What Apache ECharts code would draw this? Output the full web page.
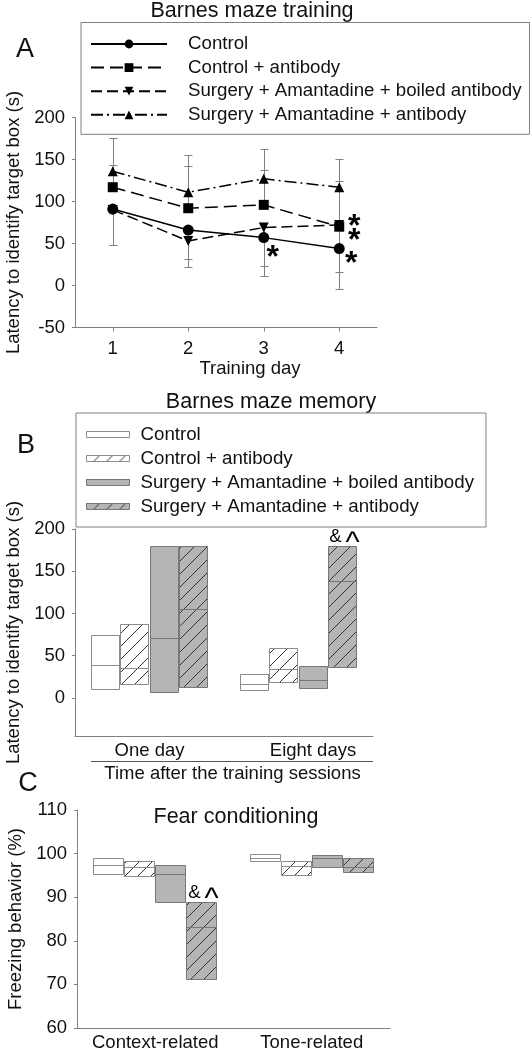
<!DOCTYPE html>
<html><head><meta charset="utf-8">
<script src="https://cdn.jsdelivr.net/npm/echarts@6/dist/echarts.min.js"></script>
<style>html,body{margin:0;padding:0;background:#fff}#c{width:532px;height:1050px}</style>
</head><body><div id="c"></div>
<script>
// ---------- data ----------
const groups = ['Control', 'Control + antibody', 'Surgery + Amantadine + boiled antibody', 'Surgery + Amantadine + antibody'];

// Panel A: Barnes maze training (latency, s)
const trainingDays = ['1', '2', '3', '4'];
const trainControl   = [91, 66, 57, 44];
const trainControlAb = [117, 92, 96, 70];
const trainBoiled    = [90, 53, 69, 72];
const trainAb        = [136, 111, 127, 117];
// error-bar end values (one-sided)
const errControl   = [48, 31, 23, 16];
const errControlAb = [144, 142, 138, 124];
const errBoiled    = [48, 22, 11, -4];
const errAb        = [176, 155, 163, 151];
const trainControlNotes   = ['', '', '*', '*'];
const trainControlAbNotes = ['', '', '', '*\n*'];

// Panel B: Barnes maze memory  [low, median, high]
const memoryCats = ['One day', 'Eight days'];
const memControl   = [[11, 39, 75], [10, 17, 28]];
const memControlAb = [[16, 35, 87], [19, 34, 59]];
const memBoiled    = [[7.5, 71, 180], [12, 21, 38]];
const memAb        = [[13.5, 105, 180], [37, 138, 180]];
const memAbNotes   = ['', '& ^'];
const memTicks     = [0, 50, 100, 150, 200];

// Panel C: Fear conditioning (%)  [low, median, high]
const fearCats = ['Context-related', 'Tone-related'];
const fearControl   = [[95.4, 97.5, 98.9], [98.3, 99.1, 99.8]];
const fearControlAb = [[94.9, 97.0, 98.3], [95.0, 97.1, 98.2]];
const fearBoiled    = [[88.9, 95.4, 97.5], [96.9, 99.1, 99.6]];
const fearAb        = [[71.2, 83.1, 88.9], [95.8, 96.9, 98.9]];
const fearAbNotes   = ['& ^', ''];

// ---------- styles ----------
const FONT = '"Liberation Sans", Arial, sans-serif';
const TXT = '#111';
const AX = '#808080';
const FS = 18.5;

function hatch(bg) {
  const s = 13, cv = document.createElement('canvas');
  cv.width = s; cv.height = s;
  const g = cv.getContext('2d');
  g.fillStyle = bg; g.fillRect(0, 0, s, s);
  g.strokeStyle = '#333'; g.lineWidth = 1;
  g.beginPath();
  g.moveTo(0, s); g.lineTo(s, 0);
  g.moveTo(-1, 1); g.lineTo(1, -1);
  g.moveTo(s - 1, s + 1); g.lineTo(s + 1, s - 1);
  g.stroke();
  return { image: cv, repeat: 'repeat' };
}
const boxStyles = [
  { fill: '#ffffff', stroke: '#8c8c8c' },
  { fill: hatch('#ffffff'), stroke: '#8c8c8c' },
  { fill: '#b5b5b5', stroke: '#777777' },
  { fill: hatch('#b5b5b5'), stroke: '#777777' }
];

function noteTexts(note, cx, yTop) {
  // note like '& ^' : the caret is drawn in a larger size, as in the figure
  const parts = note.split(' ');
  const out = [];
  out.push({ type: 'text', x: cx - 1, y: yTop,
    style: { text: parts[0], fill: '#000', font: FS + 'px ' + FONT, align: 'right', verticalAlign: 'bottom' } });
  if (parts[1]) {
    out.push({ type: 'text', x: cx + 3, y: yTop + 12.5,
      style: { text: parts[1], fill: '#000', font: '30px ' + FONT, align: 'left', verticalAlign: 'bottom' } });
  }
  return out;
}

function boxRenderer(k, notes) {
  const st = boxStyles[k];
  return function (params, api) {
    const ci = api.value(0);
    const lo = api.coord([ci, api.value(1)]);
    const md = api.coord([ci, api.value(2)]);
    const hi = api.coord([ci, api.value(3)]);
    const band = api.size([1, 0])[0];
    const gw = band * 0.79;
    const w = gw / 4;
    const x0 = Math.round(lo[0] - gw / 2 + k * w) + 0.5;
    const bw = Math.round(w) - 1;
    const yTop = Math.round(hi[1]) + 0.5, yBot = Math.round(lo[1]) + 0.5, yMed = Math.round(md[1]) + 0.5;
    let children = [
      { type: 'rect', shape: { x: x0, y: yTop, width: bw, height: yBot - yTop }, style: { fill: st.fill, stroke: st.stroke, lineWidth: 1 } },
      { type: 'line', shape: { x1: x0, y1: yMed, x2: x0 + bw, y2: yMed }, style: { stroke: st.stroke, lineWidth: 1 } }
    ];
    const note = notes && notes[params.dataIndex];
    if (note) children = children.concat(noteTexts(note, x0 + bw / 2, yTop));
    return { type: 'group', children };
  };
}

function errRenderer(params, api) {
  const p = api.coord([api.value(0), api.value(1)]);
  const e = api.coord([api.value(0), api.value(2)]);
  const x = Math.round(p[0]) + 0.5, ye = Math.round(e[1]) + 0.5;
  return { type: 'group', children: [
    { type: 'line', shape: { x1: x, y1: p[1], x2: x, y2: ye }, style: { stroke: AX, lineWidth: 1 } },
    { type: 'line', shape: { x1: x - 4, y1: ye, x2: x + 4, y2: ye }, style: { stroke: AX, lineWidth: 1 } }
  ] };
}

function notePoints(notes, values, offsets) {
  const out = [];
  notes.forEach((t, i) => {
    if (t) out.push({ name: t, coord: [trainingDays[i], values[i]], label: { offset: offsets[i] } });
  });
  return out;
}

const labelStyle = { color: TXT, fontSize: FS, fontFamily: FONT };
const nameStyle = { color: TXT, fontSize: FS, fontFamily: FONT };

const lineDefs = [
  { v: trainControl, e: errControl, symbol: 'circle', size: 11, rot: 0, dash: 'solid' },
  { v: trainControlAb, e: errControlAb, symbol: 'rect', size: 10, rot: 0, dash: [13, 6] },
  { v: trainBoiled, e: errBoiled, symbol: 'triangle', size: 10, rot: 180, dash: [11, 5] },
  { v: trainAb, e: errAb, symbol: 'triangle', size: 10, rot: 0, dash: [12, 4, 2, 4] }
];

const series = [];
lineDefs.forEach((d, k) => {
  series.push({
    type: 'custom', name: groups[k] + ' SEM', xAxisIndex: 0, yAxisIndex: 0, z: 1,
    renderItem: errRenderer, encode: { x: 0, y: [1, 2] },
    data: d.v.map((v, i) => [i, v, d.e[i]]), silent: true
  });
});
lineDefs.forEach((d, k) => {
  const s = {
    type: 'line', name: groups[k], xAxisIndex: 0, yAxisIndex: 0, z: 3,
    data: d.v, symbol: d.symbol, symbolSize: d.size, symbolRotate: d.rot, showAllSymbol: true,
    lineStyle: { color: '#000', width: 1.5, type: d.dash }, itemStyle: { color: '#000' }
  };
  if (k === 0 || k === 1) {
    s.markPoint = {
      symbol: 'circle', symbolSize: 1, silent: true, itemStyle: { color: 'rgba(0,0,0,0)' },
      label: { show: true, position: 'inside', color: '#000', fontSize: 32, fontWeight: 'bold', fontFamily: FONT, lineHeight: 14, formatter: p => p.name },
      data: k === 0
        ? notePoints(trainControlNotes, trainControl, [null, null, [9, 21], [12, 16]])
        : notePoints(trainControlAbNotes, trainControlAb, [null, null, null, [15, 7]])
    };
  }
  series.push(s);
});
[memControl, memControlAb, memBoiled, memAb].forEach((arr, k) => {
  series.push({ type: 'custom', name: groups[k], xAxisIndex: 1, yAxisIndex: 1,
    renderItem: boxRenderer(k, k === 3 ? memAbNotes : null), encode: { x: 0, y: [1, 2, 3] },
    data: arr.map((d, i) => [i, d[0], d[1], d[2]]) });
});
[fearControl, fearControlAb, fearBoiled, fearAb].forEach((arr, k) => {
  series.push({ type: 'custom', name: groups[k], xAxisIndex: 2, yAxisIndex: 2,
    renderItem: boxRenderer(k, k === 3 ? fearAbNotes : null), encode: { x: 0, y: [1, 2, 3] },
    data: arr.map((d, i) => [i, d[0], d[1], d[2]]) });
});

const yName = 'Latency to identify target box (s)';
function yAxisBase(extra) {
  return Object.assign({
    type: 'value', splitLine: { show: false },
    axisLine: { show: true, onZero: false, lineStyle: { color: AX } },
    axisTick: { show: true, length: 3, lineStyle: { color: AX } },
    axisLabel: Object.assign({ margin: 10 }, labelStyle),
    nameLocation: 'middle', nameRotate: 90, nameGap: 52, nameTextStyle: nameStyle
  }, extra);
}

const option = {
  animation: false,
  backgroundColor: '#fff',
  textStyle: { fontFamily: FONT },
  grid: [
    { left: 75, right: 155, top: 117.5, bottom: 722.5, outerBoundsMode: 'none' },
    { left: 75, right: 159, top: 529, bottom: 314, outerBoundsMode: 'none' },
    { left: 77, right: 142, top: 810, bottom: 22, outerBoundsMode: 'none' }
  ],
  xAxis: [
    { gridIndex: 0, type: 'category', data: trainingDays, boundaryGap: true,
      axisLine: { onZero: false, lineStyle: { color: AX } },
      axisTick: { show: true, alignWithLabel: true, length: 4, lineStyle: { color: AX } },
      axisLabel: Object.assign({ margin: 12, interval: 0 }, labelStyle),
      name: 'Training day', nameLocation: 'middle', nameGap: 32,
      nameTextStyle: Object.assign({ padding: [0, 0, 0, 48] }, nameStyle) },
    { gridIndex: 1, type: 'category', data: memoryCats, boundaryGap: true,
      axisLine: { onZero: false, lineStyle: { color: AX } }, axisTick: { show: false },
      axisLabel: Object.assign({ margin: 5, interval: 0, formatter: (v, i) => i === 1 ? '{s|' + v + '}' : v,
        rich: { s: { padding: [0, 0, 0, 29], fontSize: FS, color: TXT, fontFamily: FONT } } }, labelStyle),
      name: 'Time after the training sessions', nameLocation: 'middle', nameGap: 28,
      nameTextStyle: Object.assign({ padding: [0, 0, 0, 17] }, nameStyle) },
    { gridIndex: 2, type: 'category', data: fearCats, boundaryGap: true,
      axisLine: { onZero: false, lineStyle: { color: AX } }, axisTick: { show: false },
      axisLabel: Object.assign({ margin: 5, interval: 0, hideOverlap: false }, labelStyle) }
  ],
  yAxis: [
    yAxisBase({ gridIndex: 0, min: -50, max: 200, interval: 50, name: yName }),
    yAxisBase({ gridIndex: 1, min: -45, max: 200, name: yName,
      axisLabel: Object.assign({ margin: 10, customValues: memTicks }, labelStyle),
      axisTick: { show: true, length: 3, customValues: memTicks, lineStyle: { color: AX } } }),
    yAxisBase({ gridIndex: 2, min: 60, max: 110, interval: 10, name: 'Freezing behavior (%)' })
  ],
  legend: [
    { orient: 'vertical', left: 81, top: 22.5, selectedMode: false,
      itemWidth: 76, itemHeight: 11, itemGap: 4.6,
      padding: [12, 8, 10, 9], borderColor: AX, borderWidth: 1,
      textStyle: { color: TXT, fontSize: 18.7, fontFamily: FONT, lineHeight: 18, padding: [0, 0, 0, 16] },
      data: groups.map(n => ({ name: n })) },
    { orient: 'vertical', left: 76, top: 413, selectedMode: false,
      itemWidth: 43, itemHeight: 6, itemGap: 5,
      padding: [12, 12, 11, 10], borderColor: AX, borderWidth: 1,
      textStyle: { color: TXT, fontSize: 18.7, fontFamily: FONT, lineHeight: 18, padding: [0, 0, 0, 6] },
      data: groups.map((n, k) => ({ name: n, icon: 'rect',
        itemStyle: { color: boxStyles[k].fill, borderColor: boxStyles[k].stroke, borderWidth: 1, borderType: 'solid' } })) }
  ],
  graphic: [
    { type: 'text', x: 252, y: 11, style: { text: 'Barnes maze training', font: '21.5px ' + FONT, fill: TXT, align: 'center', verticalAlign: 'middle' } },
    { type: 'text', x: 271, y: 402, style: { text: 'Barnes maze memory', font: '21.5px ' + FONT, fill: TXT, align: 'center', verticalAlign: 'middle' } },
    { type: 'text', x: 236, y: 817, style: { text: 'Fear conditioning', font: '21.5px ' + FONT, fill: TXT, align: 'center', verticalAlign: 'middle' } },
    { type: 'text', x: 25, y: 50, style: { text: 'A', font: '27px ' + FONT, fill: TXT, align: 'center', verticalAlign: 'middle' } },
    { type: 'text', x: 26, y: 446, style: { text: 'B', font: '27px ' + FONT, fill: TXT, align: 'center', verticalAlign: 'middle' } },
    { type: 'text', x: 28, y: 784, style: { text: 'C', font: '27px ' + FONT, fill: TXT, align: 'center', verticalAlign: 'middle' } },
    { type: 'line', shape: { x1: 91, y1: 761.5, x2: 373, y2: 761.5 }, style: { stroke: '#555', lineWidth: 1 } }
  ],
  series: series
};

const chart = echarts.init(document.getElementById('c'), null, { renderer: 'canvas' });
chart.setOption(option);
</script>
</body></html>
